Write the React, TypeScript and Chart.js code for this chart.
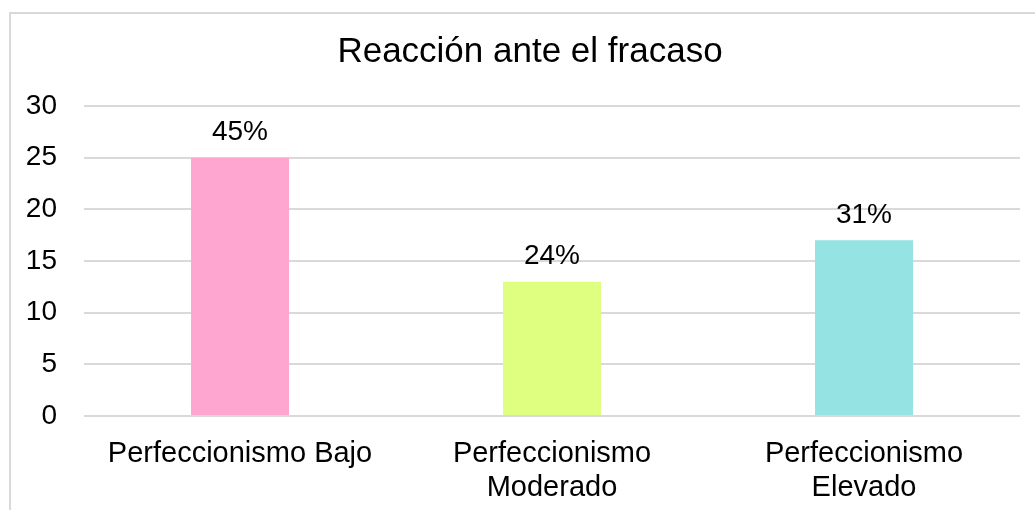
import React, { useEffect, useRef } from "react";
import { Chart, registerables } from "chart.js";

Chart.register(...registerables);

const TITLE = "Reacción ante el fracaso";
const categories: (string | string[])[] = [
  "Perfeccionismo Bajo",
  ["Perfeccionismo", "Moderado"],
  ["Perfeccionismo", "Elevado"],
];
const values = [25, 13, 17];
const percentLabels = ["45%", "24%", "31%"];
const barColors = ["#FFA6D0", "#DFFF80", "#95E3E3"];
const yMin = 0;
const yMax = 30;
const yStep = 5;

const FONT = "Arial, 'Liberation Sans', sans-serif";

export default function App() {
  const ref = useRef<HTMLCanvasElement | null>(null);
  useEffect(() => {
    if (!ref.current) return;
    const frame = {
      id: "frame",
      beforeDraw(chart: any) {
        const ctx = chart.ctx;
        ctx.save();
        ctx.fillStyle = "#ffffff";
        ctx.fillRect(0, 0, chart.width, chart.height);
        ctx.strokeStyle = "#d9d9d9";
        ctx.lineWidth = 2;
        ctx.strokeRect(10, 13, chart.width + 50, chart.height + 50);
        ctx.restore();
      },
      afterDraw(chart: any) {
        const ctx = chart.ctx;
        ctx.save();
        ctx.fillStyle = "#000000";
        ctx.font = `35px ${FONT}`;
        ctx.textAlign = "center";
        ctx.textBaseline = "middle";
        ctx.fillText(TITLE, 530, 52);
        const meta = chart.getDatasetMeta(0);
        ctx.font = `28px ${FONT}`;
        ctx.textBaseline = "bottom";
        meta.data.forEach((bar: any, i: number) => {
          ctx.fillText(percentLabels[i], bar.x, bar.y - 11);
        });
        ctx.restore();
      },
    };
    const chart = new Chart(ref.current, {
      type: "bar",
      data: {
        labels: categories,
        datasets: [
          {
            data: values,
            backgroundColor: barColors,
            barPercentage: 0.314,
            categoryPercentage: 1,
          },
        ],
      },
      options: {
        animation: false,
        responsive: false,
        maintainAspectRatio: false,
        layout: { padding: { top: 106, left: 0, right: 15, bottom: 0 } },
        plugins: { legend: { display: false }, title: { display: false }, tooltip: { enabled: false } },
        scales: {
          x: {
            grid: { display: false, drawTicks: false },
            border: { display: false },
            ticks: {
              color: "#000000",
              font: { family: FONT, size: 29, lineHeight: 1.17 },
              padding: 21,
              maxRotation: 0,
              autoSkip: false,
            },
            afterFit(scale: any) {
              scale.height = 94;
            },
          },
          y: {
            min: yMin,
            max: yMax,
            grid: { color: "#d9d9d9", lineWidth: 2, drawTicks: false },
            border: { display: false },
            ticks: {
              stepSize: yStep,
              color: "#000000",
              font: { family: FONT, size: 28 },
              padding: 27,
            },
            afterFit(scale: any) {
              scale.width = 84;
            },
          },
        },
      },
      plugins: [frame],
    });
    return () => chart.destroy();
  }, []);
  return (
    <div style={{ position: "fixed", left: 0, top: 0, width: 1035, height: 510 }}>
      <canvas ref={ref} width={1035} height={510} style={{ width: 1035, height: 510, display: "block" }} />
    </div>
  );
}
